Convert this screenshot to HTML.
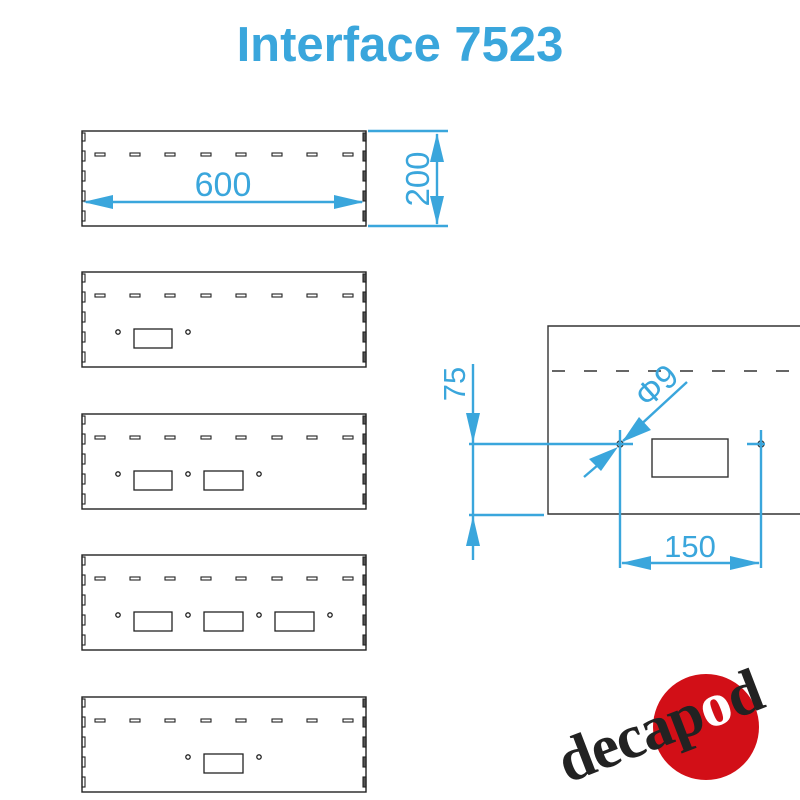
<!DOCTYPE html>
<html><head><meta charset="utf-8"><style>
html,body{margin:0;padding:0;background:#fff;width:800px;height:800px;overflow:hidden}
</style></head><body>
<svg width="800" height="800" viewBox="0 0 800 800" xmlns="http://www.w3.org/2000/svg">
<defs>
<g id="panel" fill="none" stroke="#222" stroke-width="1.4">
  <rect x="82" y="0" width="284" height="95"/>
  <g stroke-width="1.1">
    <rect x="82" y="2" width="3" height="8"/><rect x="82" y="20" width="3" height="10"/><rect x="82" y="40" width="3" height="10"/><rect x="82" y="60" width="3" height="10"/><rect x="82" y="80" width="3" height="10"/>
    <rect x="363" y="2" width="3" height="8" fill="#555"/><rect x="363" y="20" width="3" height="10" fill="#555"/><rect x="363" y="40" width="3" height="10" fill="#555"/><rect x="363" y="60" width="3" height="10" fill="#555"/><rect x="363" y="80" width="3" height="10" fill="#555"/>
    <rect x="95" y="22" width="10" height="3"/><rect x="130" y="22" width="10" height="3"/><rect x="165" y="22" width="10" height="3"/><rect x="201" y="22" width="10" height="3"/><rect x="236" y="22" width="10" height="3"/><rect x="272" y="22" width="10" height="3"/><rect x="307" y="22" width="10" height="3"/><rect x="343" y="22" width="10" height="3"/>
  </g>
</g>
<g id="hole"><circle r="2.2" fill="none" stroke="#222" stroke-width="1.3"/></g>
</defs>
<text x="400" y="61" text-anchor="middle" font-family="Liberation Sans, sans-serif" font-weight="bold" font-size="49" fill="#3aa6dc">Interface 7523</text>

<use href="#panel" y="131"/>
<use href="#panel" y="272"/>
<use href="#panel" y="414"/>
<use href="#panel" y="555"/>
<use href="#panel" y="697"/>

<g fill="none" stroke="#222" stroke-width="1.3">
  <rect x="134" y="329" width="38" height="19"/>
  <rect x="134" y="471" width="38" height="19"/><rect x="204" y="471" width="39" height="19"/>
  <rect x="134" y="612" width="38" height="19"/><rect x="204" y="612" width="39" height="19"/><rect x="275" y="612" width="39" height="19"/>
  <rect x="204" y="754" width="39" height="19"/>
</g>
<use href="#hole" x="118" y="332"/><use href="#hole" x="188" y="332"/>
<use href="#hole" x="118" y="474"/><use href="#hole" x="188" y="474"/><use href="#hole" x="259" y="474"/>
<use href="#hole" x="118" y="615"/><use href="#hole" x="188" y="615"/><use href="#hole" x="259" y="615"/><use href="#hole" x="330" y="615"/>
<use href="#hole" x="188" y="757"/><use href="#hole" x="259" y="757"/>

<g stroke="#3aa6dc" stroke-width="2.4" fill="#3aa6dc">
  <line x1="86" y1="202" x2="362" y2="202"/>
  <polygon points="83,202 113,195 113,209" stroke="none"/>
  <polygon points="364,202 334,195 334,209" stroke="none"/>
  <line x1="368" y1="131" x2="448" y2="131"/>
  <line x1="368" y1="226" x2="448" y2="226"/>
  <line x1="437" y1="134" x2="437" y2="224"/>
  <polygon points="437,133 430,162 444,162" stroke="none"/>
  <polygon points="437,225 430,196 444,196" stroke="none"/>
</g>
<text x="223" y="196" text-anchor="middle" font-family="Liberation Sans, sans-serif" font-size="34" fill="#3aa6dc">600</text>
<text transform="translate(429,179) rotate(-90)" text-anchor="middle" font-family="Liberation Sans, sans-serif" font-size="33" fill="#3aa6dc">200</text>

<g fill="none" stroke="#333" stroke-width="1.4">
  <polyline points="800,326 548,326 548,514 800,514"/>
  <line x1="548" y1="371" x2="800" y2="371" stroke-dasharray="13,19" stroke-dashoffset="-4"/>
  <rect x="652" y="439" width="76" height="38"/>
  <circle cx="620" cy="444" r="3"/><circle cx="761" cy="444" r="3"/>
</g>
<g stroke="#3aa6dc" stroke-width="2.4" fill="#3aa6dc">
  <line x1="473" y1="364" x2="473" y2="560"/>
  <polygon points="473,443 466,413 480,413" stroke="none"/>
  <polygon points="473,516 466,546 480,546" stroke="none"/>
  <line x1="469" y1="444" x2="633" y2="444"/>
  <line x1="469" y1="515" x2="544" y2="515"/>
  <line x1="747" y1="444" x2="765" y2="444"/>
  <line x1="620" y1="430" x2="620" y2="568"/>
  <line x1="761" y1="430" x2="761" y2="568"/>
  <line x1="622" y1="563" x2="759" y2="563"/>
  <polygon points="621,563 651,556 651,570" stroke="none"/>
  <polygon points="760,563 730,556 730,570" stroke="none"/>
  <line x1="687" y1="382" x2="623" y2="441"/>
  <polygon points="622,442 639,417 651,430" stroke="none"/>
  <line x1="584" y1="477" x2="605" y2="459"/>
  <polygon points="618,447 601,471 589,459" stroke="none"/>
</g>
<text transform="translate(465,384) rotate(-90)" text-anchor="middle" font-family="Liberation Sans, sans-serif" font-size="31" fill="#3aa6dc">75</text>
<text x="690" y="557" text-anchor="middle" font-family="Liberation Sans, sans-serif" font-size="31" fill="#3aa6dc">150</text>
<text transform="translate(664,394) rotate(-42)" text-anchor="middle" font-family="Liberation Sans, sans-serif" font-size="33" fill="#3aa6dc">Φ9</text>

<circle cx="706" cy="727" r="53" fill="#d20f17"/>
<text transform="translate(667,745) rotate(-21)" text-anchor="middle" font-family="Liberation Serif, serif" font-weight="bold" font-size="62" fill="#222" letter-spacing="-1">decap<tspan fill="#fff">o</tspan>d</text>
</svg>
</body></html>
